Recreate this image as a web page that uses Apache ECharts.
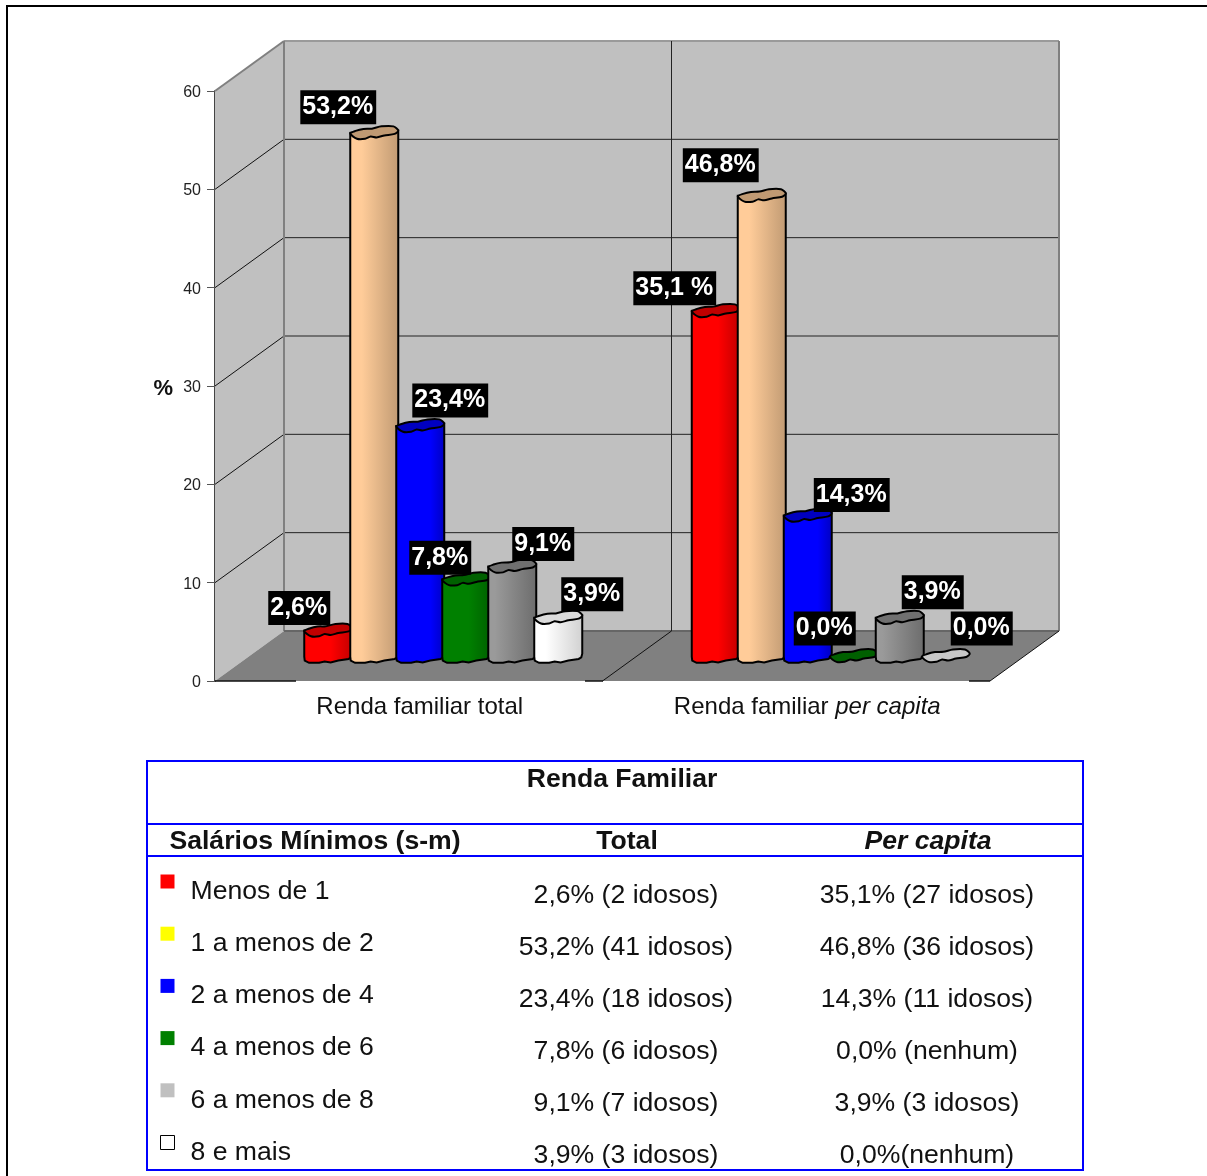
<!DOCTYPE html>
<html>
<head>
<meta charset="utf-8">
<title>Renda Familiar</title>
<style>
  html, body { margin: 0; padding: 0; background: #fff; }
  #chart { width: 1207px; height: 1176px; }
</style>
<script src="https://cdn.jsdelivr.net/npm/echarts@6/dist/echarts.min.js"></script>
</head>
<body>
<div id="chart"></div>
<script>
// dados
const categories = ["Renda familiar total", "Renda familiar per capita"];
const incomeBands = ["Menos de 1", "1 a menos de 2", "2 a menos de 4", "4 a menos de 6", "6 a menos de 8", "8 e mais"];
const totalValues = [2.6, 53.2, 23.4, 7.8, 9.1, 3.9];
const perCapitaValues = [35.1, 46.8, 14.3, 0, 3.9, 0];
const totalLabels = ["2,6%", "53,2%", "23,4%", "7,8%", "9,1%", "3,9%"];
const perCapitaLabels = ["35,1 %", "46,8%", "14,3%", "0,0%", "3,9%", "0,0%"];
const valueTicks = [0, 10, 20, 30, 40, 50, 60];
const totalCells = ["2,6% (2 idosos)", "53,2% (41 idosos)", "23,4% (18 idosos)", "7,8% (6 idosos)", "9,1% (7 idosos)", "3,9% (3 idosos)"];
const perCapitaCells = ["35,1% (27 idosos)", "46,8% (36 idosos)", "14,3% (11 idosos)", "0,0% (nenhum)", "3,9% (3 idosos)", "0,0%(nenhum)"];

const FONT = '"Liberation Sans", Arial, sans-serif';
const TABLE_FONT_SIZE = 26.6;

// cores: [claro, escuro, topo] de cada cilindro, e onde comeca o sombreado
const barColors = [
  ["#ff0000", "#c00000", "#c00000"],
  ["#ffcc99", "#c09a73", "#c09a73"],
  ["#0000ff", "#0000c0", "#0000c0"],
  ["#008000", "#006000", "#006000"],
  ["#9a9a9a", "#6c6c6c", "#707070"],
  ["#ffffff", "#d0d0d0", "#dcdcdc"],
];
const shadeStart = [0.55, 0.25, 0.7, 0.55, 0.15, 0.25];
const legendColors = ["#ff0000", "#ffff00", "#0000ff", "#008000", "#c0c0c0", "#ffffff"];

// deslocamento manual dos rotulos em relacao ao topo de cada barra
const labelNudgeTotal = [[-29, -24], [-36, -27], [30, -27], [-26, -23], [31, -24], [34, -25]];
const labelNudgePerCapita = [[-41, -24], [-41, -32], [44, -22], [-29, -29], [33, -27], [36, -29]];

// profundidade do "3D"
const DEPTH_X = 69;
const DEPTH_Y = -50;
const BAR_STEP = 46;
const BAR_HALF_W = 24;
const BAR_HALF_H = 6.5;

// contorno irregular do topo do cilindro (fracoes da largura/altura)
const topOutline = [
  [-1, 0.1], [-0.78, -0.3], [-0.45, -0.6], [-0.1, -0.65], [0.3, -1], [0.8, -1], [1, -0.35],
  [0.85, 0.15], [0.42, 0.4], [0.1, 0.7], [-0.15, 0.55], [-0.38, 0.9], [-0.72, 0.9],
];
const frontOutline = [
  [1, -0.35], [0.96, 0.2], [0.85, 0.45], [0.42, 0.7], [0.1, 1], [-0.15, 0.85], [-0.38, 1.05], [-0.8, 1.05], [-0.98, 0.7], [-1, 0.1],
];

function renderBackdrop(params, api) {
  const grid = params.coordSys;
  const dx = DEPTH_X, dy = DEPTH_Y;
  const left = grid.x, right = grid.x + grid.width;
  const bottom = grid.y + grid.height, top = grid.y;
  const mid = grid.x + grid.width / 2;
  const children = [];
  const line = (x1, y1, x2, y2, stroke, lineWidth) => children.push({
    type: "line",
    shape: { x1, y1, x2, y2 },
    style: { stroke, lineWidth },
  });
  const poly = (points, fill) => children.push({ type: "polygon", shape: { points }, style: { fill } });

  poly([[left + dx, top + dy], [right + dx, top + dy], [right + dx, bottom + dy], [left + dx, bottom + dy]], "#c0c0c0");
  poly([[left, top], [left + dx, top + dy], [left + dx, bottom + dy], [left, bottom]], "#c0c0c0");
  poly([[left, bottom], [left + dx, bottom + dy], [right + dx, bottom + dy], [right, bottom]], "#808080");

  valueTicks.forEach((v) => {
    if (v === 0 || v === 60) return;
    const y = api.coord([0, v])[1];
    line(left, y, left + dx, y + dy, "#111", 1);
    line(left + dx, y + dy, right + dx, y + dy, "#222", 1);
  });

  // bordas das paredes
  line(left, top, left + dx, top + dy, "#808080", 2);
  line(left + dx, top + dy, right + dx, top + dy, "#9a9a9a", 2);
  line(left + dx, top + dy, left + dx, bottom + dy, "#808080", 2);
  line(right + dx, top + dy, right + dx, bottom + dy, "#808080", 2);
  line(left + dx, bottom + dy, right + dx, bottom + dy, "#666", 2);

  // divisao entre as duas categorias
  line(mid + dx, top + dy, mid + dx, bottom + dy, "#222", 1);
  line(mid + dx, bottom + dy, mid, bottom, "#111", 1);
  line(right, bottom, right + dx, bottom + dy, "#111", 1);

  // linha da frente, interrompida sob os rotulos do eixo
  line(left, bottom, left + 81, bottom, "#111", 1.5);
  line(left + 370, bottom, left + 388, bottom, "#111", 1.5);
  line(right - 21, bottom, right, bottom, "#111", 1.5);

  return { type: "group", children };
}

function renderCylinder(bandIndex) {
  return function (params, api) {
    const colors = barColors[bandIndex];
    const base = api.coord([api.value(0), 0]);
    const head = api.coord([api.value(0), api.value(1)]);
    const cx = base[0] + DEPTH_X / 2 + (bandIndex - 2.5) * BAR_STEP;
    const baseY = base[1] + DEPTH_Y / 2;
    const topY = head[1] + DEPTH_Y / 2;
    const children = [];
    if (api.value(1) > 0) {
      const outline = [
        [cx - BAR_HALF_W, topY],
        [cx + BAR_HALF_W, topY - BAR_HALF_H * 0.35],
      ].concat(frontOutline.map((p) => [cx + p[0] * BAR_HALF_W, baseY + p[1] * BAR_HALF_H]));
      children.push({
        type: "polygon",
        shape: { points: outline },
        style: {
          fill: new echarts.graphic.LinearGradient(0, 0, 1, 0, [
            { offset: 0, color: colors[0] },
            { offset: shadeStart[bandIndex], color: colors[0] },
            { offset: 1, color: colors[1] },
          ]),
          stroke: "#000",
          lineWidth: 2,
        },
      });
    }
    children.push({
      type: "polygon",
      shape: {
        points: topOutline.map((p) => [cx + p[0] * BAR_HALF_W, topY + p[1] * BAR_HALF_H]),
        smooth: 0.3,
      },
      style: { fill: api.value(1) > 0 ? colors[2] : (bandIndex === 5 ? "#c8c8c8" : colors[2]), stroke: "#000", lineWidth: 2 },
    });
    return { type: "group", children };
  };
}

function renderValueLabel(params, api) {
  const bandIndex = api.value(2);
  const catIndex = api.value(0);
  const nudge = (catIndex === 0 ? labelNudgeTotal : labelNudgePerCapita)[bandIndex];
  const head = api.coord([catIndex, api.value(1)]);
  const text = (catIndex === 0 ? totalLabels : perCapitaLabels)[bandIndex];
  return {
    type: "text",
    x: head[0] + DEPTH_X / 2 + (bandIndex - 2.5) * BAR_STEP + nudge[0],
    y: head[1] + DEPTH_Y / 2 + nudge[1] + 1.5,
    style: {
      text,
      align: "center",
      verticalAlign: "middle",
      font: "bold 25px " + FONT,
      fill: "#fff",
      backgroundColor: "#000",
      padding: [5, 3, 4, 2],
    },
  };
}

const barSeries = incomeBands.map((name, i) => ({
  name,
  type: "custom",
  z: 3,
  renderItem: renderCylinder(i),
  encode: { x: 0, y: 1 },
  data: [[0, totalValues[i]], [1, perCapitaValues[i]]],
  animation: false,
}));

const labelData = [];
incomeBands.forEach((name, i) => {
  labelData.push([0, totalValues[i], i]);
  labelData.push([1, perCapitaValues[i], i]);
});

// tabela abaixo do grafico
const ROW_Y0 = 896, ROW_STEP = 52;
function tableText(text, x, y, font) {
  return {
    type: "text",
    x,
    y,
    style: { text, align: "center", verticalAlign: "middle", font, fill: "#111" },
  };
}
const regular = TABLE_FONT_SIZE + "px " + FONT;
const bold = "bold " + regular;
const tableElements = [
  { type: "rect", shape: { x: 147, y: 761, width: 936, height: 409 }, style: { fill: "none", stroke: "#0000ff", lineWidth: 2 } },
  { type: "line", shape: { x1: 147, y1: 824, x2: 1083, y2: 824 }, style: { stroke: "#0000ff", lineWidth: 2 } },
  { type: "line", shape: { x1: 147, y1: 856, x2: 1083, y2: 856 }, style: { stroke: "#0000ff", lineWidth: 2 } },
  tableText("Renda Familiar", 622, 780, bold),
  tableText("Salários Mínimos (s-m)", 315, 842, bold),
  tableText("Total", 627, 842, bold),
  tableText("Per capita", 928, 842, "italic " + bold),
];
totalCells.forEach((cell, i) => {
  tableElements.push(tableText(cell, 626, ROW_Y0 + i * ROW_STEP, regular));
  tableElements.push(tableText(perCapitaCells[i], 927, ROW_Y0 + i * ROW_STEP, regular));
});

// moldura externa
const frame = {
  type: "polyline",
  shape: { points: [[7, 1176], [7, 6], [1207, 6]] },
  style: { fill: "none", stroke: "#000", lineWidth: 2 },
};

const options = {
  animation: false,
  backgroundColor: "#fff",
  textStyle: { fontFamily: FONT },
  grid: { left: 215, top: 91, width: 775, height: 590 },
  legend: {
    orient: "vertical",
    left: 155,
    top: 853,
    height: 330,
    itemWidth: 14,
    itemHeight: 14,
    itemGap: 5.2,
    icon: "rect",
    selectedMode: false,
    formatter: (name) => "\n" + name,
    textStyle: { fontFamily: FONT, fontSize: TABLE_FONT_SIZE, color: "#111", lineHeight: 20, padding: [0, 0, 0, 11] },
    data: incomeBands.map((name, i) => ({
      name,
      itemStyle: {
        color: legendColors[i],
        borderColor: i === 5 ? "#000" : "transparent",
        borderWidth: i === 5 ? 1 : 0,
      },
    })),
  },
  xAxis: {
    type: "category",
    data: categories,
    axisLine: { show: false },
    axisTick: { show: false },
    axisLabel: {
      margin: 14,
      fontFamily: FONT,
      fontSize: 24,
      color: "#111",
      padding: [0, 0, 0, 22],
      formatter: (val) => val.replace("per capita", "{i|per capita}"),
      rich: { i: { fontFamily: FONT, fontSize: 24, fontStyle: "italic", color: "#111" } },
    },
  },
  yAxis: {
    type: "value",
    min: 0,
    max: 60,
    interval: 10,
    name: "%",
    nameLocation: "middle",
    nameRotate: 0,
    nameGap: 42,
    nameTextStyle: { fontFamily: FONT, fontSize: 22, fontWeight: "bold", color: "#111", verticalAlign: "top", padding: [-8, 0, 0, 0] },
    axisLine: { show: true, lineStyle: { color: "#444", width: 2 } },
    axisTick: { show: true, length: 8, lineStyle: { color: "#555", width: 1 } },
    axisLabel: { margin: 14, fontFamily: FONT, fontSize: 16, color: "#222", verticalAlign: "top", padding: [-6.5, 0, 0, 0] },
    splitLine: { show: false },
  },
  graphic: { elements: [frame].concat(tableElements) },
  series: [
    {
      type: "custom",
      z: 1,
      silent: true,
      renderItem: renderBackdrop,
      data: [[0, 0]],
      encode: { x: 0, y: 1 },
    },
    ...barSeries,
    {
      type: "custom",
      z: 5,
      renderItem: renderValueLabel,
      encode: { x: 0, y: 1 },
      data: labelData,
    },
  ],
};

const chart = echarts.init(document.getElementById("chart"));
chart.setOption(options);
window.addEventListener("resize", () => chart.resize());
</script>
</body>
</html>
